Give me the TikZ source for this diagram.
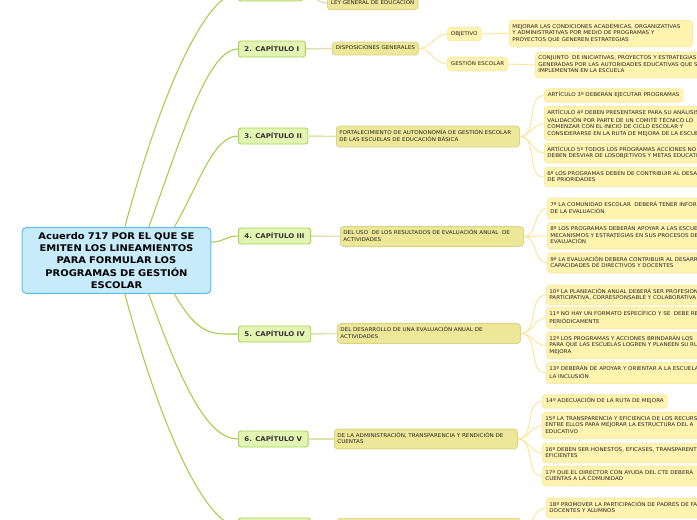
\documentclass[tikz,border=0pt]{standalone}
\usepackage{fontspec}
\setmainfont[FakeStretch=1.08]{DejaVu Sans}
\usetikzlibrary{positioning}

\definecolor{raizfondo}{HTML}{C8EBFB}
\definecolor{raizborde}{HTML}{5BBDEA}
\definecolor{capfondo}{HTML}{E3F5B3}
\definecolor{capborde}{HTML}{A9D155}
\definecolor{temafondo}{HTML}{EDE798}
\definecolor{temaborde}{HTML}{DCD485}
\definecolor{detfondo}{HTML}{FFF3B0}
\definecolor{detborde}{HTML}{FCEBA6}
\definecolor{cRama}{HTML}{A6CF4C}
\definecolor{cEnlace}{HTML}{E0E2B0}
\definecolor{cHilo}{HTML}{FBE6A0}

\begin{document}
\begin{tikzpicture}[x=1pt, y=-1pt,
    raiz/.style={draw=raizborde, fill=raizfondo, rounded corners=4pt, line width=1pt,
      text width=182pt, align=center, inner ysep=4.5pt,
      font=\fontsize{9.2}{12.4}\selectfont\bfseries},
    capitulo/.style={draw=capborde, fill=capfondo, rounded corners=2.5pt, line width=0.9pt,
      anchor=west, minimum height=16pt, inner xsep=6pt, text=black!80,
      font=\fontsize{6.5}{8}\selectfont\bfseries},
    tema/.style={draw=temaborde, fill=temafondo, rounded corners=3pt, line width=0.8pt,
      anchor=west, inner xsep=3.5pt, inner ysep=3.25pt, text=black!85,
      font=\fontsize{5.2}{6.5}\selectfont,
      execute at begin node=\strut, execute at end node=\strut},
    largo/.style={text width=177pt, align=left, inner xsep=3pt},
    ancho/.style={text width=200pt, align=left, inner xsep=3pt},
    detalle/.style={tema, draw=detborde, fill=detfondo},
    rama/.style={draw=cRama, line width=1.1pt},
    enlace/.style={draw=cEnlace, line width=1.5pt},
    hilo/.style={draw=cHilo, line width=1pt}]

  \useasboundingbox (0,0) rectangle (697,520);

  % Nodos
  \node[raiz] (r) at (116.5,260.5) {Acuerdo 717 POR EL QUE SE\\ EMITEN LOS LINEAMIENTOS\\ PARA FORMULAR LOS\\ PROGRAMAS DE GESTIÓN\\ ESCOLAR};

  \node[capitulo, minimum width=64pt] (c1) at (238,-7) {};
  \node[capitulo] (c2) at (238,49) {2. CAPÍTULO I};
  \node[capitulo] (c3) at (238,136) {3. CAPÍTULO II};
  \node[capitulo] (c4) at (238,236) {4. CAPÍTULO III};
  \node[capitulo] (c5) at (238,334) {5. CAPÍTULO IV};
  \node[capitulo] (c6) at (238,439) {6. CAPÍTULO V};
  \node[capitulo, minimum width=72pt] (c7) at (238,526) {};

  \node[tema] (t1) at (327,3) {LEY GENERAL DE EDUCACIÓN};
  \node[tema] (t2) at (332,48.5) {DISPOSICIONES GENERALES};
  \node[tema, largo] (t3) at (336,136.5) {FORTALECIMIENTO DE AUTONONOMÍA DE GESTIÓN ESCOLAR\\ DE LAS ESCUELAS DE EDUCACIÓN BÁSICA};
  \node[tema, largo] (t4) at (340,236.5) {DEL USO \ DE LOS RESULTADOS DE EVALUACIÓN ANUAL \ DE\\ ACTIVIDADES};
  \node[tema, largo] (t5) at (337,333.5) {DEL DESARROLLO DE UNA EVALUACIÓN ANUAL DE\\ ACTIVIDADES};
  \node[tema, largo] (t6) at (334,439) {DE LA ADMINISTRACIÓN, TRANSPARENCIA Y RENDICIÓN DE\\ CUENTAS};
  \node[tema, largo] (t7) at (337,528) {\\};

  \node[detalle] (obj) at (447,34) {OBJETIVO};
  \node[detalle] (ges) at (447,64) {GESTIÓN ESCOLAR};
  \node[detalle, largo] (d1) at (509,33.5) {MEJORAR LAS CONDICIONES ACADÉMICAS, ORGANIZATIVAS\\ Y ADMINISTRATIVAS POR MEDIO DE PROGRAMAS Y\\ PROYECTOS QUE GENEREN ESTRATEGIAS};
  \node[detalle, ancho] (d2) at (535,65) {CONJUNTO \ DE INICIATIVAS, PROYECTOS Y ESTRATEGIAS\\ GENERADAS POR LAS AUTORIDADES EDUCATIVAS QUE SE\\ IMPLEMENTAN EN LA ESCUELA};

  \node[detalle] (a3) at (544,95.5) {ARTÍCULO 3º DEBERÁN EJECUTAR PROGRAMAS};
  \node[detalle, ancho] (a4) at (544,123.5) {ARTÍCULO 4º DEBEN PRESENTARSE PARA SU ANÁLISIS\\ VALIDACIÓN POR PARTE DE UN COMITÉ TÉCNICO LO\\ COMENZAR CON EL INICIO DE CICLO ESCOLAR Y\\ CONSIDERARSE EN LA RUTA DE MEJORA DE LA ESCUELA};
  \node[detalle, ancho] (a5) at (544,153) {ARTÍCULO 5º TODOS LOS PROGRAMAS ACCIONES NO\\ DEBEN DESVIAR DE LOSOBJETIVOS Y METAS EDUCATIVAS};
  \node[detalle, ancho] (a6) at (544,177) {6º LOS PROGRAMAS DEBEN DE CONTRIBUIR AL DESARROLLO\\ DE PRIORIDADES};

  \node[detalle, ancho] (a7) at (547,208.5) {7º LA COMUNIDAD ESCOLAR \ DEBERÁ TENER INFORMACIÓN\\ DE LA EVALUACIÓN};
  \node[detalle, ancho] (a8) at (547,236) {8º LOS PROGRAMAS DEBERÁN APOYAR A LAS ESCUELAS\\ MECANISMOS Y ESTRATEGIAS EN SUS PROCESOS DE\\ EVALUACIÓN};
  \node[detalle, ancho] (a9) at (547,263) {9º LA EVALUACIÓN DEBERA CONTRIBUIR AL DESARROLLO\\ CAPACIDADES DE DIRECTIVOS Y DOCENTES};

  \node[detalle, ancho] (a10) at (546,295) {10º LA PLANEACIÓN ANUAL DEBERÁ SER PROFESIONAL\\ PARTICIPATIVA, CORRESPONSABLE Y COLABORATIVA};
  \node[detalle, ancho] (a11) at (546,318) {11º NO HAY UN FORMATO ESPECÍFICO Y SE \ DEBE REVISAR\\ PERIÓDICAMENTE};
  \node[detalle, ancho] (a12) at (546,345.5) {12º LOS PROGRAMAS Y ACCIONES BRINDARÁN LOS\\ PARA QUE LAS ESCUELAS LOGREN Y PLANEEN SU RUTA DE\\ MEJORA};
  \node[detalle, ancho] (a13) at (546,373) {13º DEBERÁN DE APOYAR Y ORIENTAR A LA ESCUELA\\ LA INCLUSIÓN};

  \node[detalle] (a14) at (542,401.5) {14º ADECUACIÓN DE LA RUTA DE MEJORA};
  \node[detalle, ancho] (a15) at (542,425.5) {15º LA TRANSPARENCIA Y EFICIENCIA DE LOS RECURSOS\\ ENTRE ELLOS PARA MEJORAR LA ESTRUCTURA DEL A\\ EDUCATIVO};
  \node[detalle, ancho] (a16) at (542,453) {16º DEBEN SER HONESTOS, EFICASES, TRANSPARENTES\\ EFICIENTES};
  \node[detalle, ancho] (a17) at (542,476) {17º QUE EL DIRECTOR CON AYUDA DEL CTE DEBERÁ\\ CUENTAS A LA COMUNIDAD};

  \node[detalle, ancho] (a18) at (546,508) {18º PROMOVER LA PARTICIPACIÓN DE PADRES DE FAMILIA\\ DOCENTES Y ALUMNOS};

  % Aristas
  \draw[rama] (r.76) .. controls +(75:150pt) and +(-30,0) .. (c1.west);
  \draw[rama] (r.46) .. controls +(70:100pt) and +(-30,0) .. (c2.west);
  \draw[rama] (r.30) .. controls +(60:50pt) and +(-25,0) .. (c3.west);
  \draw[rama] (r.11) .. controls +(12,0) and +(-12,0) .. (c4.west);
  \draw[rama] (r.-30) .. controls +(-60:50pt) and +(-25,0) .. (c5.west);
  \draw[rama] (r.-46) .. controls +(-70:100pt) and +(-30,0) .. (c6.west);
  \draw[rama] (r.-76) .. controls +(-75:150pt) and +(-30,0) .. (c7.west);

  \draw[enlace] (c1.east) to[out=0, in=180] (t1.west);
  \draw[enlace] (c2.east) -- (t2.west);
  \draw[enlace] (c3.east) -- (t3.west);
  \draw[enlace] (c4.east) -- (t4.west);
  \draw[enlace] (c5.east) -- (t5.west);
  \draw[enlace] (c6.east) -- (t6.west);
  \draw[enlace] (c7.east) -- (t7.west);

  \draw[hilo] (t2.east) to[out=0, in=180] (obj.west);
  \draw[hilo] (t2.east) to[out=0, in=180] (ges.west);
  \draw[hilo] (obj.east) -- (d1.west);
  \draw[hilo] (ges.east) -- (d2.west);

  \draw[hilo] (t3.east) to[out=0, in=180] (a3.west);
  \draw[hilo] (t3.east) to[out=0, in=180] (a4.west);
  \draw[hilo] (t3.east) to[out=0, in=180] (a5.west);
  \draw[hilo] (t3.east) to[out=0, in=180] (a6.west);

  \draw[hilo] (t4.east) to[out=0, in=180] (a7.west);
  \draw[hilo] (t4.east) to[out=0, in=180] (a8.west);
  \draw[hilo] (t4.east) to[out=0, in=180] (a9.west);

  \draw[hilo] (t5.east) to[out=0, in=180] (a10.west);
  \draw[hilo] (t5.east) to[out=0, in=180] (a11.west);
  \draw[hilo] (t5.east) to[out=0, in=180] (a12.west);
  \draw[hilo] (t5.east) to[out=0, in=180] (a13.west);

  \draw[hilo] (t6.east) to[out=0, in=180] (a14.west);
  \draw[hilo] (t6.east) to[out=0, in=180] (a15.west);
  \draw[hilo] (t6.east) to[out=0, in=180] (a16.west);
  \draw[hilo] (t6.east) to[out=0, in=180] (a17.west);

  \draw[hilo] (t7.east) to[out=0, in=180] (a18.west);
\end{tikzpicture}
\end{document}
